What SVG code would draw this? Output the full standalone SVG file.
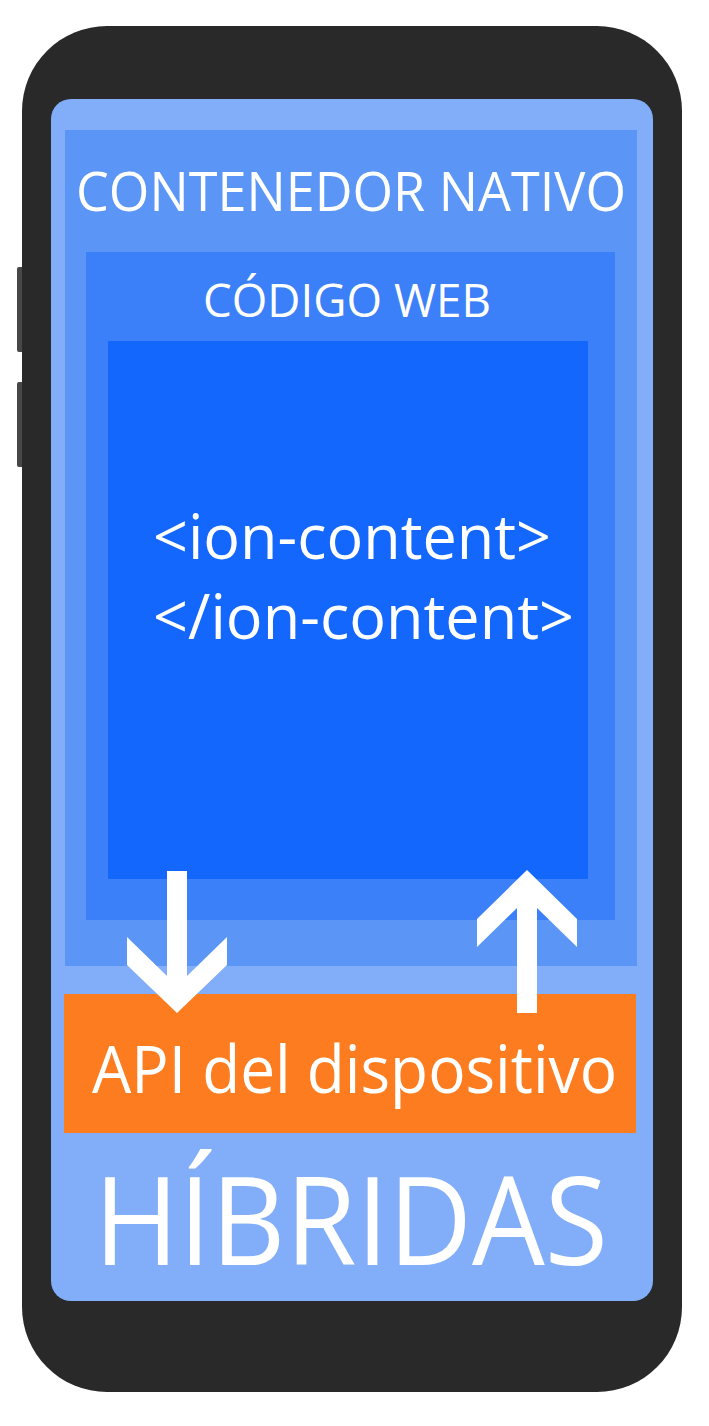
<svg xmlns="http://www.w3.org/2000/svg" width="709" height="1426" viewBox="0 0 709 1426">
  <style>
    .lbl { font-family: "Open Sans", "Noto Sans", "Liberation Sans", sans-serif; fill: #ffffff; }
    .arrow { fill: #ffffff; }
  </style>
  <rect width="709" height="1426" fill="#ffffff"/>

  <!-- handset -->
  <g id="phone">
    <rect x="17" y="267" width="9" height="85" rx="2" fill="#474747"/>
    <rect x="17" y="382" width="9" height="85" rx="2" fill="#474747"/>
    <rect x="22" y="26" width="660" height="1366" rx="85" ry="85" fill="#292929"/>
  </g>

  <!-- screen -->
  <g id="screen">
    <rect x="51" y="99" width="602" height="1202" rx="20" fill="#82AEF9"/>
  </g>

  <g id="contenedor-nativo">
    <rect x="65" y="130" width="572" height="836" fill="#5B96F7"/>
    <text class="lbl" x="76" y="211" font-size="55" textLength="550" lengthAdjust="spacingAndGlyphs">CONTENEDOR NATIVO</text>
  </g>

  <g id="codigo-web">
    <rect x="86" y="252" width="529" height="668" fill="#3C80F9"/>
    <text class="lbl" x="203" y="317" font-size="46" textLength="288" lengthAdjust="spacingAndGlyphs">CÓDIGO WEB</text>
  </g>

  <g id="ion-content">
    <rect x="108" y="341" width="480" height="538" fill="#1367FC"/>
    <text class="lbl" x="153" y="559" font-size="63" textLength="398" lengthAdjust="spacingAndGlyphs">&lt;ion-content&gt;</text>
    <text class="lbl" x="153" y="639" font-size="63" textLength="421" lengthAdjust="spacingAndGlyphs">&lt;/ion-content&gt;</text>
  </g>

  <g id="api-dispositivo">
    <rect x="64" y="994" width="572" height="139" fill="#FD7C1F"/>
    <text class="lbl" x="92" y="1093" font-size="66" textLength="525" lengthAdjust="spacingAndGlyphs">API del dispositivo</text>
  </g>

  <g id="hibridas">
    <text class="lbl" x="94" y="1265" font-size="122" textLength="514" lengthAdjust="spacingAndGlyphs">HÍBRIDAS</text>
  </g>

  <!-- calls between web code and device API -->
  <g id="connectors">
    <polygon class="arrow" points="167,871 187,871 187,976 227,937 227,965 177,1013 127,965 127,937 167,976"/>
    <polygon class="arrow" points="527,870 577,919 577,947 537,908 537,1013 517,1013 517,908 477,947 477,919"/>
  </g>
</svg>
